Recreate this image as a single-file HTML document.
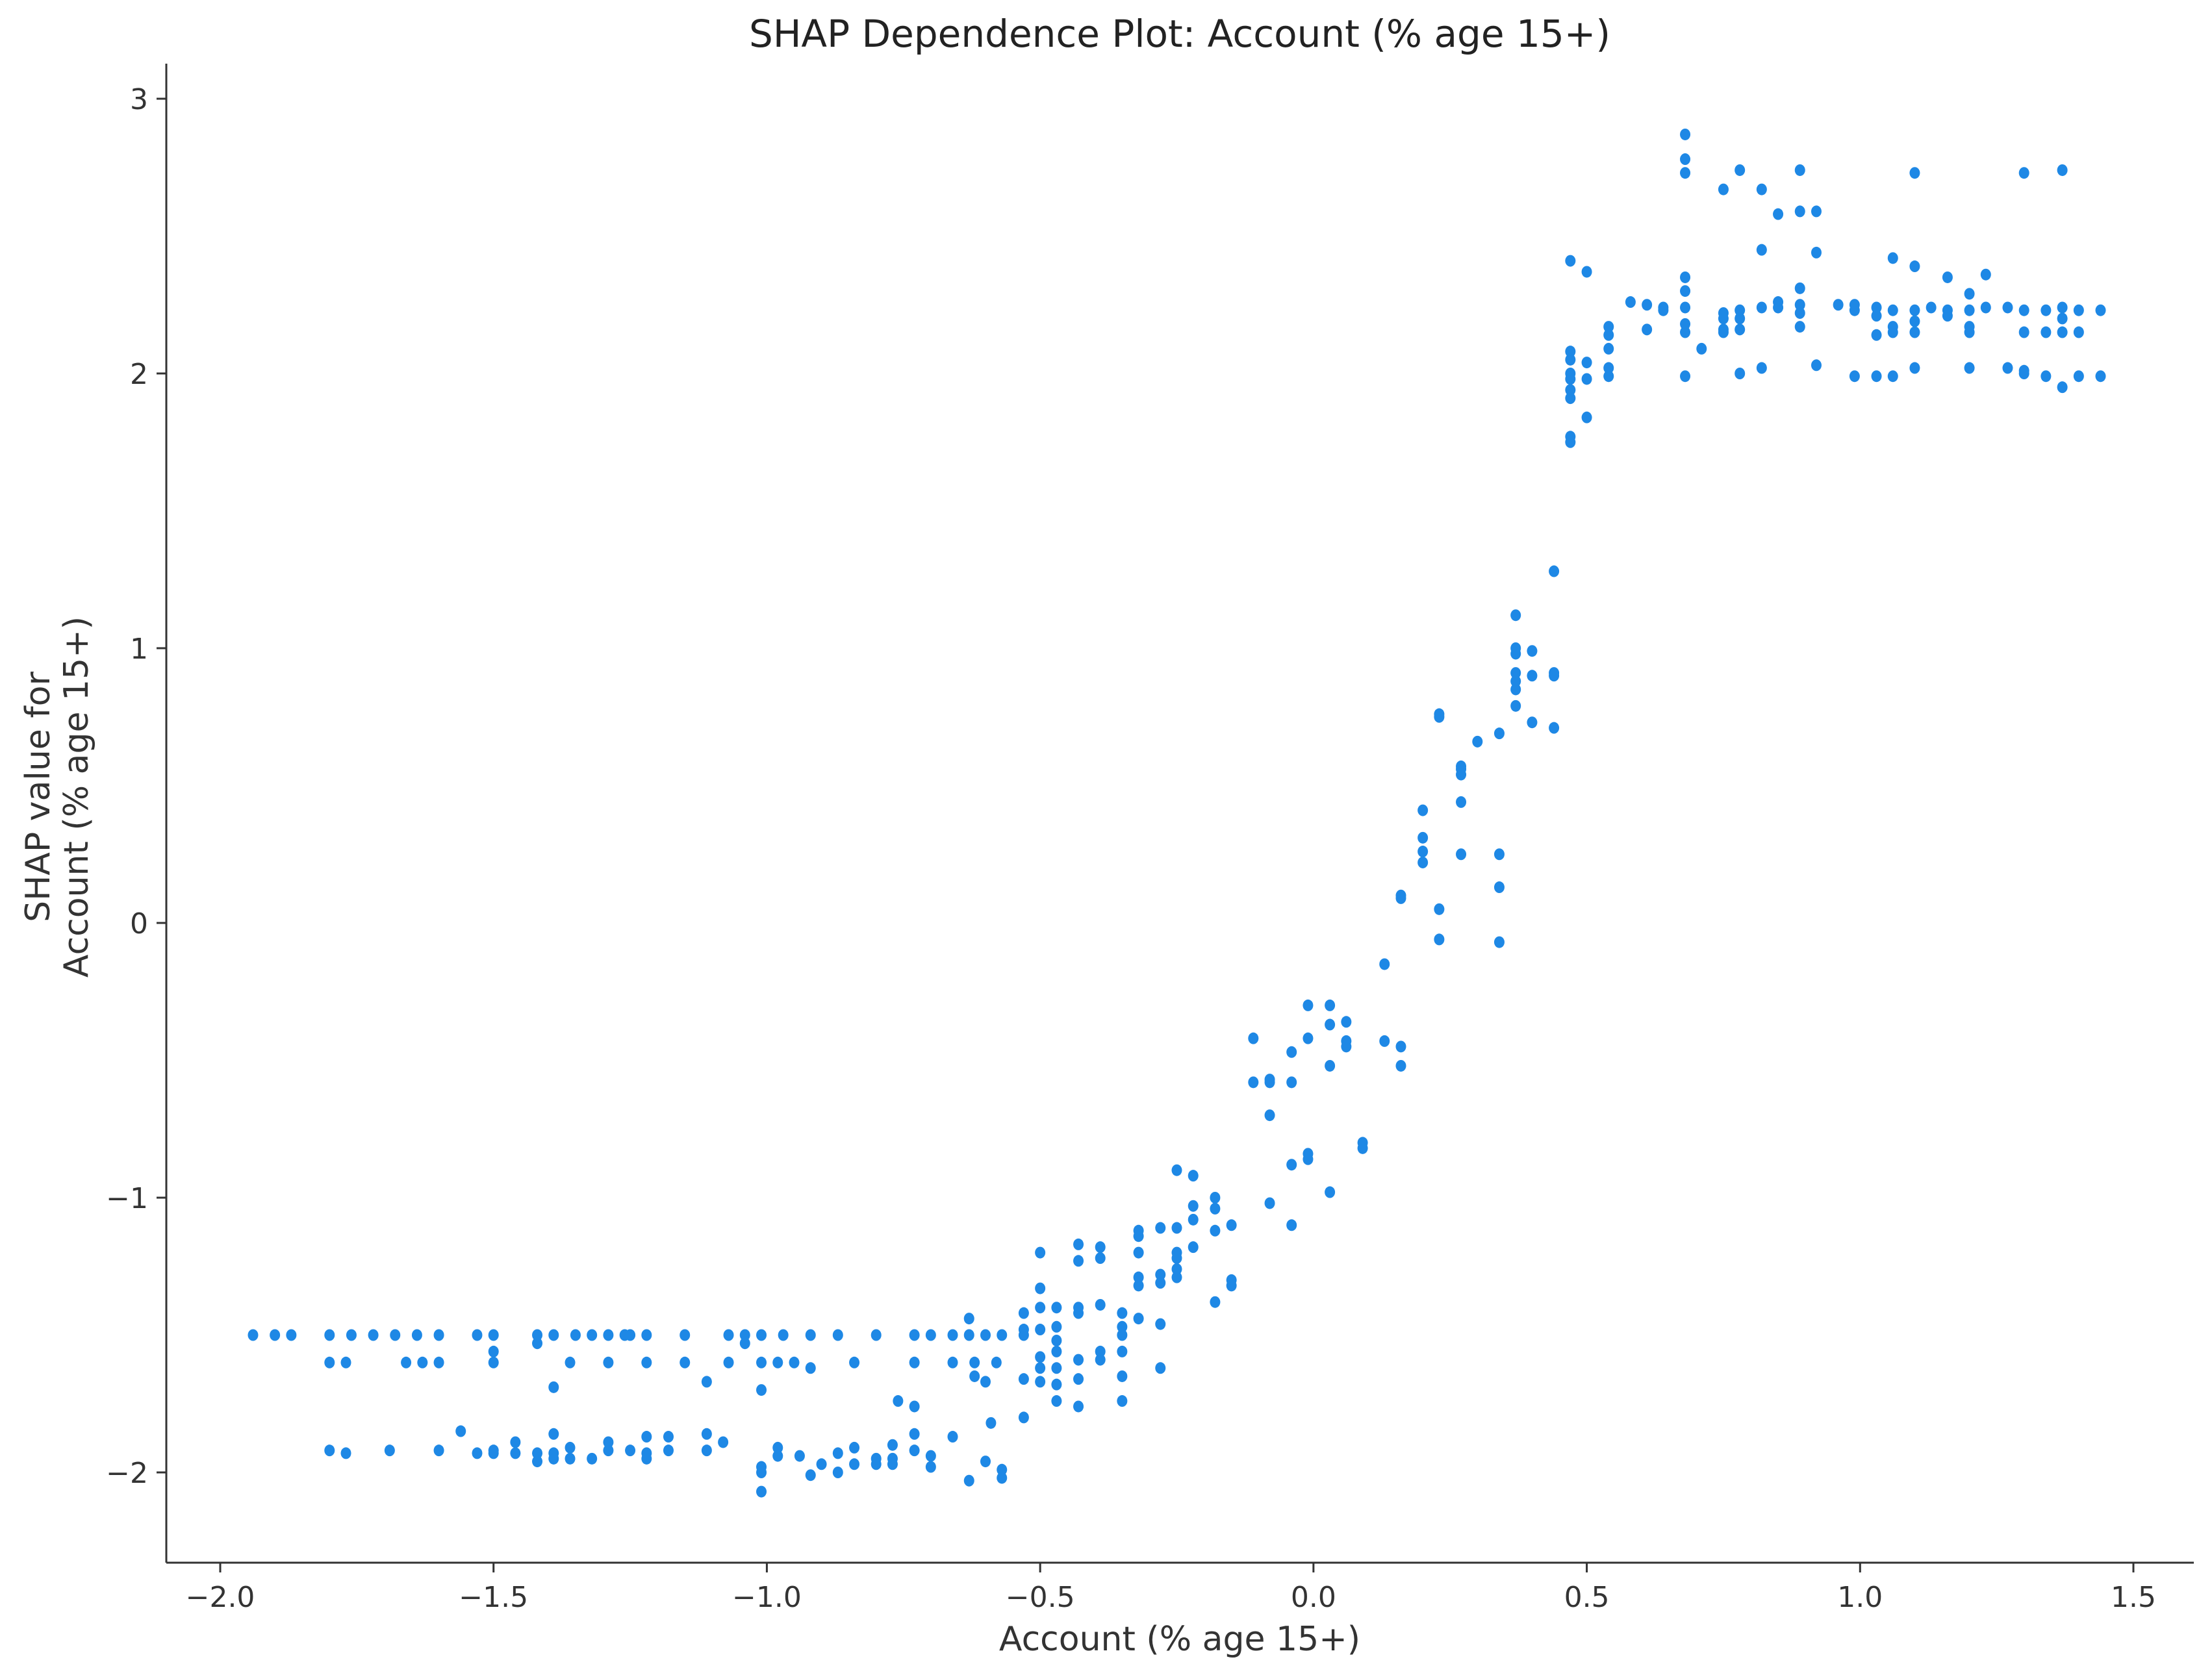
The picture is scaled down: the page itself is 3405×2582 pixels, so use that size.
<!DOCTYPE html>
<html><head><meta charset="utf-8"><style>
html,body{margin:0;padding:0;background:#fff;}
svg{display:block;font-family:"DejaVu Sans","Liberation Sans",sans-serif;}
</style></head><body>
<svg id="chart" width="3405" height="2582" viewBox="0 0 3405 2582" xmlns="http://www.w3.org/2000/svg">
<rect width="3405" height="2582" fill="#fff"/>
<text x="1816" y="72" font-size="58" text-anchor="middle" fill="#222">SHAP Dependence Plot: Account (% age 15+)</text>
<text x="1816" y="2541" font-size="52" text-anchor="middle" fill="#333">Account (% age 15+)</text>
<g transform="translate(88,1227) rotate(-90)">
<text x="0" y="-12" font-size="52" text-anchor="middle" fill="#333">SHAP value for</text>
<text x="0" y="47" font-size="52" text-anchor="middle" fill="#333">Account (% age 15+)</text>
</g>
<g id="points"></g>
<g id="axes"></g>
</svg>
<script>
const xTicks=[-2.0,-1.5,-1.0,-0.5,0.0,0.5,1.0,1.5];
const xTickLabels=["\u22122.0","\u22121.5","\u22121.0","\u22120.5","0.0","0.5","1.0","1.5"];
const yTicks=[-2,-1,0,1,2,3];
const yTickLabels=["\u22122","\u22121","0","1","2","3"];
const featureX=[];
const shapY=[];
function add(x,ys){for(const y of ys){featureX.push(x);shapY.push(y);}}
// left cluster upper row
[-1.94,-1.90,-1.87,-1.80,-1.76,-1.72,-1.68,-1.64,-1.60,-1.53,-1.50,-1.42,-1.39,-1.35,-1.32,-1.29,-1.26,-1.25,-1.22,-1.15,-1.07,-1.04,-1.01,-0.97,-0.92,-0.87,-0.80,-0.73,-0.70,-0.66,-0.63,-0.60,-0.57,-0.53].forEach(x=>add(x,[-1.5]));
[-1.80,-1.77,-1.66,-1.63,-1.60,-1.50,-1.36,-1.29,-1.22,-1.15,-1.07,-1.01,-0.98,-0.95,-0.84,-0.73,-0.66,-0.62,-0.58].forEach(x=>add(x,[-1.6]));
add(-1.50,[-1.56]);add(-1.42,[-1.53]);add(-1.39,[-1.69]);add(-1.11,[-1.67]);add(-1.04,[-1.53]);add(-1.01,[-1.70]);add(-0.92,[-1.62]);add(-0.76,[-1.74]);add(-0.73,[-1.76]);add(-0.63,[-1.44]);add(-0.62,[-1.65]);add(-0.60,[-1.67]);
// lower row
add(-1.80,[-1.92]);add(-1.77,[-1.93]);add(-1.69,[-1.92]);add(-1.60,[-1.92]);add(-1.56,[-1.85]);add(-1.53,[-1.93]);add(-1.50,[-1.93,-1.92]);add(-1.46,[-1.89,-1.93]);add(-1.42,[-1.93,-1.96]);add(-1.39,[-1.86,-1.93,-1.95]);add(-1.36,[-1.91,-1.95]);add(-1.32,[-1.95]);add(-1.29,[-1.89,-1.92]);add(-1.25,[-1.92]);add(-1.22,[-1.87,-1.93,-1.95]);add(-1.18,[-1.87,-1.92]);add(-1.11,[-1.86,-1.92]);add(-1.08,[-1.89]);add(-1.01,[-1.98,-2.0,-2.07]);add(-0.98,[-1.91,-1.94]);add(-0.94,[-1.94]);add(-0.92,[-2.01]);add(-0.90,[-1.97]);add(-0.87,[-2.0,-1.93]);add(-0.84,[-1.91,-1.97]);add(-0.80,[-1.95,-1.97]);add(-0.77,[-1.90,-1.95,-1.97]);add(-0.73,[-1.86,-1.92]);add(-0.70,[-1.94,-1.98]);add(-0.66,[-1.87]);add(-0.63,[-2.03]);add(-0.60,[-1.96]);add(-0.59,[-1.82]);add(-0.57,[-1.99,-2.02]);
// mid
add(-0.53,[-1.42,-1.48,-1.66,-1.80]);add(-0.50,[-1.20,-1.33,-1.40,-1.48,-1.58,-1.62,-1.67]);add(-0.47,[-1.40,-1.47,-1.52,-1.56,-1.62,-1.68,-1.74]);add(-0.43,[-1.17,-1.23,-1.40,-1.42,-1.59,-1.66,-1.76]);add(-0.39,[-1.18,-1.22,-1.39,-1.56,-1.59]);add(-0.35,[-1.42,-1.47,-1.50,-1.56,-1.65,-1.74]);add(-0.32,[-1.12,-1.14,-1.20,-1.29,-1.32,-1.44]);add(-0.28,[-1.11,-1.28,-1.31,-1.46,-1.62]);add(-0.25,[-0.90,-1.11,-1.20,-1.22,-1.26,-1.29]);add(-0.22,[-0.92,-1.03,-1.08,-1.18]);add(-0.18,[-1.00,-1.04,-1.12,-1.38]);add(-0.15,[-1.10,-1.30,-1.32]);
// center
add(-0.11,[-0.42,-0.58]);add(-0.08,[-0.57,-0.58,-0.70,-1.02]);add(-0.04,[-0.47,-0.58,-0.88,-1.10]);add(-0.01,[-0.30,-0.42,-0.84,-0.86]);add(0.03,[-0.30,-0.37,-0.52,-0.98]);add(0.06,[-0.36,-0.43,-0.45]);add(0.09,[-0.80,-0.82]);add(0.13,[-0.15,-0.43]);add(0.16,[-0.45,-0.52,0.09,0.10]);add(0.20,[0.41,0.31,0.26,0.22]);add(0.23,[0.75,0.76,0.05,-0.06]);add(0.27,[0.56,0.57,0.54,0.44,0.25]);add(0.30,[0.66]);add(0.34,[0.69,0.25,0.13,-0.07]);add(0.37,[1.12,1.00,0.98,0.91,0.88,0.85,0.79]);add(0.40,[0.99,0.90,0.73]);add(0.44,[1.28,0.91,0.90,0.71]);
// right
add(0.47,[2.41,2.08,2.05,2.00,1.98,1.94,1.91,1.77,1.75]);add(0.50,[2.37,2.04,1.98,1.84]);add(0.54,[2.17,2.14,2.09,2.02,1.99]);add(0.58,[2.26]);add(0.61,[2.25,2.16]);add(0.64,[2.24,2.23]);add(0.68,[2.87,2.78,2.73,2.35,2.30,2.24,2.18,2.15,1.99]);add(0.71,[2.09]);add(0.75,[2.67,2.22,2.20,2.16,2.15]);add(0.78,[2.74,2.23,2.20,2.16,2.00]);add(0.82,[2.67,2.45,2.24,2.02]);add(0.85,[2.58,2.26,2.24]);add(0.89,[2.74,2.59,2.31,2.25,2.22,2.17]);add(0.92,[2.59,2.44,2.03]);add(0.96,[2.25]);add(0.99,[2.25,2.23,1.99]);add(1.03,[2.24,2.21,2.14,1.99]);add(1.06,[2.42,2.23,2.17,2.15,1.99]);add(1.10,[2.73,2.39,2.23,2.19,2.15,2.02]);add(1.13,[2.24]);add(1.16,[2.35,2.23,2.21]);add(1.20,[2.29,2.23,2.17,2.15,2.02]);add(1.23,[2.36,2.24]);add(1.27,[2.24,2.02]);add(1.30,[2.73,2.23,2.15,2.01,2.00]);add(1.34,[2.23,2.15,1.99]);add(1.37,[2.74,2.24,2.20,2.15,1.95]);add(1.40,[2.23,2.15,1.99]);add(1.44,[2.23,1.99]);

const NS="http://www.w3.org/2000/svg";
const L=256,R=3377,T=98,B=2406;
function sx(v){return 339+(v+2)*(3284-339)/3.5;}
function sy(v){return 2267-(v+2)*(2267-152)/5;}
const pg=document.getElementById('points');
for(let i=0;i<featureX.length;i++){
  const c=document.createElementNS(NS,'ellipse');
  c.setAttribute('cx',sx(featureX[i]));c.setAttribute('cy',sy(shapY[i]));
  c.setAttribute('rx',8);c.setAttribute('ry',9);c.setAttribute('fill','#1E88E5');
  
  
  pg.appendChild(c);
}
const ax=document.getElementById('axes');
function el(tag,attrs,txt){const e=document.createElementNS(NS,tag);for(const k in attrs)e.setAttribute(k,attrs[k]);if(txt!==undefined)e.textContent=txt;ax.appendChild(e);return e;}
const yl=el('line',{x1:L,y1:T,x2:L,y2:B,stroke:'#333','stroke-width':3});


const xl=el('line',{x1:L,y1:B,x2:R,y2:B,stroke:'#333','stroke-width':3});


xTicks.forEach((v,i)=>{
  const t=el('line',{x1:sx(v),y1:B,x2:sx(v),y2:B+15,stroke:'#333','stroke-width':3});
  
  
  const lb=el('text',{x:sx(v),y:B+68,'font-size':44,'text-anchor':'middle',fill:'#333'},xTickLabels[i]);
  
  
});
yTicks.forEach((v,i)=>{
  const t=el('line',{x1:L-15,y1:sy(v),x2:L,y2:sy(v),stroke:'#333','stroke-width':3});
  
  
  const lb=el('text',{x:L-28,y:sy(v)+16,'font-size':44,'text-anchor':'end',fill:'#333'},yTickLabels[i]);
  
  
});
</script>
</body></html>
